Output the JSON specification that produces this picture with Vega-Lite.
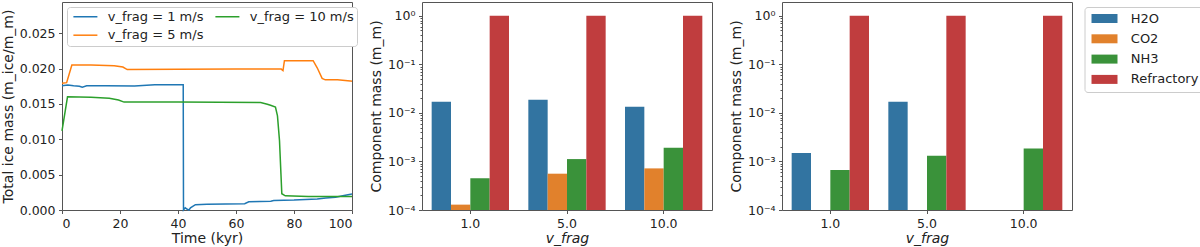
{
  "$schema": "https://vega.github.io/schema/vega-lite/v6.json",
  "padding": {"left": 0, "top": 1, "right": 0, "bottom": 0},
  "config": {
    "font": "DejaVu Sans",
    "view": {"stroke": "#555", "strokeWidth": 1},
    "axis": {"grid": false, "domain": false, "tickColor": "#555", "tickSize": 3.5, "labelPadding": 3.5, "labelFontSize": 12.5, "labelColor": "#222", "titleFontSize": 14, "titleFontWeight": "normal", "titleColor": "#222"},
    "legend": {"labelFontSize": 13, "labelColor": "#222"}
  },
  "datasets": {
    "lines": [
      {"series": "v_frag = 1 m/s", "t": 0, "mass": 0.01755},
      {"series": "v_frag = 1 m/s", "t": 2, "mass": 0.01765},
      {"series": "v_frag = 1 m/s", "t": 4, "mass": 0.01755},
      {"series": "v_frag = 1 m/s", "t": 6, "mass": 0.0175},
      {"series": "v_frag = 1 m/s", "t": 7, "mass": 0.01735},
      {"series": "v_frag = 1 m/s", "t": 8.5, "mass": 0.01755},
      {"series": "v_frag = 1 m/s", "t": 15, "mass": 0.01755},
      {"series": "v_frag = 1 m/s", "t": 25, "mass": 0.01752},
      {"series": "v_frag = 1 m/s", "t": 32, "mass": 0.0177},
      {"series": "v_frag = 1 m/s", "t": 41.8, "mass": 0.0177},
      {"series": "v_frag = 1 m/s", "t": 41.9, "mass": 0.0},
      {"series": "v_frag = 1 m/s", "t": 42.5, "mass": 0.0003},
      {"series": "v_frag = 1 m/s", "t": 43.2, "mass": 0.0001},
      {"series": "v_frag = 1 m/s", "t": 43.8, "mass": 0.0},
      {"series": "v_frag = 1 m/s", "t": 44.3, "mass": 0.0003},
      {"series": "v_frag = 1 m/s", "t": 46, "mass": 0.00075},
      {"series": "v_frag = 1 m/s", "t": 50, "mass": 0.0008},
      {"series": "v_frag = 1 m/s", "t": 63, "mass": 0.00088},
      {"series": "v_frag = 1 m/s", "t": 64.4, "mass": 0.00115},
      {"series": "v_frag = 1 m/s", "t": 72, "mass": 0.00125},
      {"series": "v_frag = 1 m/s", "t": 73, "mass": 0.00135},
      {"series": "v_frag = 1 m/s", "t": 80, "mass": 0.0014},
      {"series": "v_frag = 1 m/s", "t": 88, "mass": 0.00155},
      {"series": "v_frag = 1 m/s", "t": 91, "mass": 0.0017},
      {"series": "v_frag = 1 m/s", "t": 94.3, "mass": 0.0018},
      {"series": "v_frag = 1 m/s", "t": 97.7, "mass": 0.0021},
      {"series": "v_frag = 1 m/s", "t": 100, "mass": 0.00225},
      {"series": "v_frag = 5 m/s", "t": 0, "mass": 0.0179},
      {"series": "v_frag = 5 m/s", "t": 1.6, "mass": 0.018},
      {"series": "v_frag = 5 m/s", "t": 3.4, "mass": 0.0205},
      {"series": "v_frag = 5 m/s", "t": 10, "mass": 0.0205},
      {"series": "v_frag = 5 m/s", "t": 18, "mass": 0.0204},
      {"series": "v_frag = 5 m/s", "t": 21, "mass": 0.0202},
      {"series": "v_frag = 5 m/s", "t": 22.5, "mass": 0.01985},
      {"series": "v_frag = 5 m/s", "t": 40, "mass": 0.0199},
      {"series": "v_frag = 5 m/s", "t": 60, "mass": 0.01992},
      {"series": "v_frag = 5 m/s", "t": 75.6, "mass": 0.01992},
      {"series": "v_frag = 5 m/s", "t": 76.2, "mass": 0.0197},
      {"series": "v_frag = 5 m/s", "t": 76.7, "mass": 0.0211},
      {"series": "v_frag = 5 m/s", "t": 86.6, "mass": 0.0211},
      {"series": "v_frag = 5 m/s", "t": 88, "mass": 0.0201},
      {"series": "v_frag = 5 m/s", "t": 89.7, "mass": 0.0186},
      {"series": "v_frag = 5 m/s", "t": 90.8, "mass": 0.0184},
      {"series": "v_frag = 5 m/s", "t": 95, "mass": 0.0184},
      {"series": "v_frag = 5 m/s", "t": 99.4, "mass": 0.01825},
      {"series": "v_frag = 5 m/s", "t": 100, "mass": 0.0182},
      {"series": "v_frag = 10 m/s", "t": 0, "mass": 0.0112},
      {"series": "v_frag = 10 m/s", "t": 1.9, "mass": 0.016},
      {"series": "v_frag = 10 m/s", "t": 10, "mass": 0.01595},
      {"series": "v_frag = 10 m/s", "t": 16.3, "mass": 0.0158},
      {"series": "v_frag = 10 m/s", "t": 19.5, "mass": 0.01555},
      {"series": "v_frag = 10 m/s", "t": 21.4, "mass": 0.01525},
      {"series": "v_frag = 10 m/s", "t": 40, "mass": 0.01525},
      {"series": "v_frag = 10 m/s", "t": 68.5, "mass": 0.0152},
      {"series": "v_frag = 10 m/s", "t": 70.8, "mass": 0.01495},
      {"series": "v_frag = 10 m/s", "t": 71.9, "mass": 0.0148},
      {"series": "v_frag = 10 m/s", "t": 73.6, "mass": 0.01455},
      {"series": "v_frag = 10 m/s", "t": 74.3, "mass": 0.0133},
      {"series": "v_frag = 10 m/s", "t": 75.0, "mass": 0.0098},
      {"series": "v_frag = 10 m/s", "t": 75.5, "mass": 0.0051},
      {"series": "v_frag = 10 m/s", "t": 75.8, "mass": 0.0023},
      {"series": "v_frag = 10 m/s", "t": 77, "mass": 0.002},
      {"series": "v_frag = 10 m/s", "t": 85, "mass": 0.00192},
      {"series": "v_frag = 10 m/s", "t": 100, "mass": 0.0019}
    ],
    "bars2": [
      {"vfrag": "1.0", "component": "H2O", "mass": 0.017},
      {"vfrag": "1.0", "component": "CO2", "mass": 0.000129},
      {"vfrag": "1.0", "component": "NH3", "mass": 0.00045},
      {"vfrag": "1.0", "component": "Refractory", "mass": 1.0},
      {"vfrag": "5.0", "component": "H2O", "mass": 0.0187},
      {"vfrag": "5.0", "component": "CO2", "mass": 0.00056},
      {"vfrag": "5.0", "component": "NH3", "mass": 0.00112},
      {"vfrag": "5.0", "component": "Refractory", "mass": 1.0},
      {"vfrag": "10.0", "component": "H2O", "mass": 0.0134},
      {"vfrag": "10.0", "component": "CO2", "mass": 0.00072},
      {"vfrag": "10.0", "component": "NH3", "mass": 0.00192},
      {"vfrag": "10.0", "component": "Refractory", "mass": 1.0}
    ],
    "bars3": [
      {"vfrag": "1.0", "component": "H2O", "mass": 0.00149},
      {"vfrag": "1.0", "component": "NH3", "mass": 0.000665},
      {"vfrag": "1.0", "component": "Refractory", "mass": 1.0},
      {"vfrag": "5.0", "component": "H2O", "mass": 0.017},
      {"vfrag": "5.0", "component": "NH3", "mass": 0.00131},
      {"vfrag": "5.0", "component": "Refractory", "mass": 1.0},
      {"vfrag": "10.0", "component": "NH3", "mass": 0.00186},
      {"vfrag": "10.0", "component": "Refractory", "mass": 1.0}
    ]
  },
  "spacing": 70,
  "bounds": "flush",
  "resolve": {"scale": {"color": "independent", "x": "independent", "y": "independent", "xOffset": "independent"}},
  "hconcat": [
    {
      "width": 290,
      "height": 208,
      "data": {"name": "lines"},
      "mark": {"type": "line", "strokeWidth": 1.5},
      "encoding": {
        "x": {"field": "t", "type": "quantitative", "scale": {"domain": [0, 100], "nice": false},
              "axis": {"title": "Time (kyr)", "values": [0, 20, 40, 60, 80, 100], "titlePadding": 2}},
        "y": {"field": "mass", "type": "quantitative", "scale": {"domain": [0, 0.0294], "nice": false},
              "axis": {"title": "Total ice mass (m_ice/m_m)", "values": [0, 0.005, 0.01, 0.015, 0.02, 0.025], "format": ".3f", "titlePadding": 4}},
        "color": {"field": "series", "type": "nominal",
                  "scale": {"domain": ["v_frag = 1 m/s", "v_frag = 5 m/s", "v_frag = 10 m/s"], "range": ["#1f77b4", "#ff7f0e", "#2ca02c"]},
                  "legend": {"orient": "top-left", "columns": 2, "symbolType": "M-2.667,0H2.667", "symbolSize": 81, "symbolStrokeWidth": 1.5,
                             "symbolOffset": 8.9, "title": null, "fillColor": "white", "strokeColor": "#ccc", "cornerRadius": 3, "padding": 3, "offset": 5,
                             "columnPadding": 8, "rowPadding": 4.7, "labelOffset": 15.8}}
      }
    },
    {
      "width": 290,
      "height": 208,
      "data": {"name": "bars2"},
      "layer": [
        {
          "mark": {"type": "bar"},
          "encoding": {
            "x": {"field": "vfrag", "type": "nominal", "sort": ["1.0", "5.0", "10.0"], "scale": {"paddingInner": 0.2, "paddingOuter": 0.1},
                  "axis": {"title": "v_frag", "labelAngle": 0, "titleFontStyle": "italic", "titlePadding": 2}},
            "xOffset": {"field": "component", "type": "nominal", "scale": {"domain": ["H2O", "CO2", "NH3", "Refractory"]}},
            "y": {"field": "mass", "type": "quantitative", "stack": null, "scale": {"type": "log", "domain": [0.0001, 1.93], "nice": false},
                  "axis": {"orient": "left", "title": "Component mass (m_m)", "values": [0.0001, 0.001, 0.01, 0.1, 1], "titlePadding": 4,
                           "labelExpr": "'10' + (datum.value >= 0.5 ? '⁰' : datum.value >= 0.05 ? '⁻¹' : datum.value >= 0.005 ? '⁻²' : datum.value >= 0.0005 ? '⁻³' : '⁻⁴')"}},
            "color": {"field": "component", "type": "nominal",
                      "scale": {"domain": ["H2O", "CO2", "NH3", "Refractory"], "range": ["#3274a1", "#e1812c", "#3a923a", "#c03d3e"]},
                      "legend": null}
          }
        },
        {
          "mark": {"type": "point", "opacity": 0},
          "encoding": {
            "y": {"field": "mass", "type": "quantitative",
                  "axis": {"orient": "left", "title": null, "labels": false, "tickSize": 2,
                           "values": [0.0002, 0.0003, 0.0004, 0.0005, 0.0006, 0.0007, 0.0008, 0.0009, 0.002, 0.003, 0.004, 0.005, 0.006, 0.007, 0.008, 0.009, 0.02, 0.03, 0.04, 0.05, 0.06, 0.07, 0.08, 0.09, 0.2, 0.3, 0.4, 0.5, 0.6, 0.7, 0.8, 0.9]}}
          }
        }
      ],
      "resolve": {"axis": {"y": "independent"}}
    },
    {
      "width": 290,
      "height": 208,
      "data": {"name": "bars3"},
      "layer": [
        {
          "mark": {"type": "bar"},
          "encoding": {
            "x": {"field": "vfrag", "type": "nominal", "sort": ["1.0", "5.0", "10.0"], "scale": {"paddingInner": 0.2, "paddingOuter": 0.1},
                  "axis": {"title": "v_frag", "labelAngle": 0, "titleFontStyle": "italic", "titlePadding": 2}},
            "xOffset": {"field": "component", "type": "nominal", "scale": {"domain": ["H2O", "CO2", "NH3", "Refractory"]}},
            "y": {"field": "mass", "type": "quantitative", "stack": null, "scale": {"type": "log", "domain": [0.0001, 1.93], "nice": false},
                  "axis": {"orient": "left", "title": "Component mass (m_m)", "values": [0.0001, 0.001, 0.01, 0.1, 1], "titlePadding": 4,
                           "labelExpr": "'10' + (datum.value >= 0.5 ? '⁰' : datum.value >= 0.05 ? '⁻¹' : datum.value >= 0.005 ? '⁻²' : datum.value >= 0.0005 ? '⁻³' : '⁻⁴')"}},
            "color": {"field": "component", "type": "nominal",
                      "scale": {"domain": ["H2O", "CO2", "NH3", "Refractory"], "range": ["#3274a1", "#e1812c", "#3a923a", "#c03d3e"]},
                      "legend": {"orient": "none", "legendX": 302.5, "legendY": 5, "title": null,
                                 "symbolType": "M-2.889,-1H2.889V1H-2.889Z", "symbolSize": 81, "symbolStrokeWidth": 0, "symbolOpacity": 1, "symbolOffset": 8.5,
                                 "fillColor": "white", "strokeColor": "#ccc", "cornerRadius": 3, "padding": 5, "rowPadding": 6.3, "labelOffset": 19.8}}
          }
        },
        {
          "mark": {"type": "point", "opacity": 0},
          "encoding": {
            "y": {"field": "mass", "type": "quantitative",
                  "axis": {"orient": "left", "title": null, "labels": false, "tickSize": 2,
                           "values": [0.0002, 0.0003, 0.0004, 0.0005, 0.0006, 0.0007, 0.0008, 0.0009, 0.002, 0.003, 0.004, 0.005, 0.006, 0.007, 0.008, 0.009, 0.02, 0.03, 0.04, 0.05, 0.06, 0.07, 0.08, 0.09, 0.2, 0.3, 0.4, 0.5, 0.6, 0.7, 0.8, 0.9]}}
          }
        }
      ],
      "resolve": {"axis": {"y": "independent"}}
    }
  ]
}
